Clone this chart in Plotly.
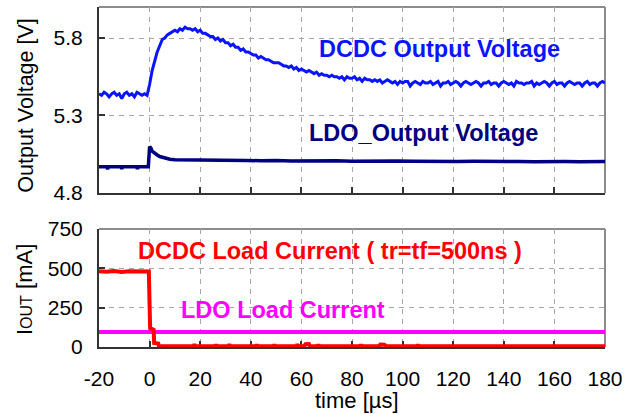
import plotly.graph_objects as go

# ---------------- data ----------------
# time axis in microseconds, 1 us steps for the voltage traces
dcdc_t = list(range(-20, 181))
dcdc_v = [
    5.44, 5.43, 5.45, 5.44, 5.42, 5.44, 5.45, 5.43, 5.44, 5.41,
    5.44, 5.45, 5.43, 5.44, 5.42, 5.45, 5.44, 5.43, 5.44, 5.43,
    5.50, 5.59, 5.65, 5.71, 5.75, 5.79, 5.80, 5.82, 5.83, 5.84,
    5.85, 5.84, 5.86, 5.85, 5.87, 5.86, 5.86, 5.85, 5.86, 5.84,
    5.85, 5.83, 5.83, 5.82, 5.81, 5.81, 5.79, 5.80, 5.78, 5.79,
    5.77, 5.77, 5.75, 5.76, 5.74, 5.74, 5.72, 5.73, 5.71, 5.71,
    5.70, 5.69, 5.69, 5.67, 5.68, 5.67, 5.66, 5.66, 5.65, 5.64,
    5.64, 5.64, 5.63, 5.62, 5.62, 5.61, 5.62, 5.60, 5.61, 5.59,
    5.60, 5.59, 5.58, 5.59, 5.58, 5.57, 5.58, 5.56, 5.57, 5.56,
    5.56, 5.55, 5.56, 5.55, 5.55, 5.54, 5.55, 5.53, 5.55, 5.54,
    5.54, 5.55, 5.53, 5.54, 5.52, 5.54, 5.53, 5.53, 5.52, 5.53,
    5.52, 5.53, 5.51, 5.52, 5.53, 5.52, 5.51, 5.52, 5.50, 5.52,
    5.51, 5.52, 5.52, 5.49, 5.51, 5.52, 5.51, 5.50, 5.52, 5.51,
    5.51, 5.52, 5.50, 5.51, 5.52, 5.49, 5.51, 5.51, 5.52, 5.50,
    5.51, 5.52, 5.51, 5.49, 5.51, 5.52, 5.51, 5.50, 5.51, 5.52,
    5.51, 5.49, 5.51, 5.51, 5.52, 5.50, 5.51, 5.51, 5.49, 5.51,
    5.52, 5.51, 5.50, 5.51, 5.49, 5.52, 5.51, 5.51, 5.50, 5.51,
    5.51, 5.52, 5.49, 5.51, 5.50, 5.51, 5.52, 5.51, 5.49, 5.51,
    5.52, 5.50, 5.51, 5.51, 5.49, 5.51, 5.52, 5.51, 5.50, 5.51,
    5.51, 5.49, 5.51, 5.52, 5.50, 5.51, 5.51, 5.49, 5.51, 5.52,
    5.51,
]

ldo_t = [-20, -17, -16.6, -16.2, -13, -11.3, -11, -10.7, -8, -5.1, -4.8, -4.5,
         -2, -0.5, 0, 0.5, 1, 2, 3, 4, 5, 6, 7, 8, 10,
         14, 20, 26, 32, 38, 44, 50, 56, 62, 68, 74, 80, 86, 92, 98,
         104, 110, 116, 122, 128, 134, 140, 146, 152, 158, 164, 170, 176, 180]
ldo_v = [4.97, 4.97, 4.955, 4.97, 4.97, 4.97, 4.955, 4.97, 4.97, 4.97, 4.955, 4.97,
         4.97, 4.97, 5.10, 5.09, 5.07, 5.055, 5.045, 5.035, 5.03, 5.025, 5.02, 5.018, 5.015,
         5.015, 5.012, 5.01, 5.012, 5.01, 5.008, 5.01, 5.006, 5.008, 5.005, 5.008, 5.004, 5.006, 5.003, 5.006,
         5.004, 5.002, 5.005, 5.003, 5.004, 5.002, 5.004, 5.003, 5.002, 5.004, 5.003, 5.002, 5.004, 5.003]

dcdc_i_t = [-20, -17, -14, -11, -8, -5, -2, -0.3, 0.2, 1.6, 1.8, 3.4, 3.7,
            17.4, 17.7, 18.0, 26.0, 26.3, 26.6, 31.2, 31.5, 31.8,
            42.1, 42.4, 42.7, 49.0, 49.3, 49.6, 58.1, 58.4, 58.7,
            61.0, 61.6, 62.3, 63.0, 63.4, 66.4, 66.7, 67.0,
            83.3, 83.6, 83.9, 90.6, 91.2, 92.0, 92.8, 93.6,
            105.7, 106.0, 106.3, 180]
dcdc_i = [482, 478, 483, 477, 481, 479, 482, 480, 120, 110, 25, 22, 4,
          4, 18, 4, 4, 16, 4, 4, 18, 4,
          4, 17, 4, 4, 16, 4, 4, 18, 4,
          4, 17, 15, 18, 4, 4, 16, 4,
          4, 17, 4, 4, 16, 18, 15, 4,
          4, 15, 4, 4]

ldo_i_t = [-20, 180]
ldo_i = [95, 95]

# axis settings
x_range = [-20, 180]
x_ticks = list(range(-20, 181, 20))
x_ticktext = [str(v) for v in x_ticks]   # plain hyphen for negatives
v_range = [4.8, 6.0]
v_ticks = [4.8, 5.3, 5.8]
v_ticktext = ["4.8", "5.3", "5.8"]
i_range = [0, 750]
i_ticks = [0, 250, 500, 750]

# colours
C_DCDC_V = "#0a14ff"
C_LDO_V = "#000080"
C_DCDC_I = "#ff0000"
C_LDO_I = "#ff00ff"
FONT = "Liberation Sans, Arial, sans-serif"

fig = go.Figure()

# upper panel: output voltages
fig.add_trace(go.Scatter(x=dcdc_t, y=dcdc_v, mode="lines", xaxis="x2", yaxis="y2",
                         line=dict(color=C_DCDC_V, width=3)))
fig.add_trace(go.Scatter(x=ldo_t, y=ldo_v, mode="lines", xaxis="x2", yaxis="y2",
                         line=dict(color=C_LDO_V, width=3.5)))

# lower panel: load currents
fig.add_trace(go.Scatter(x=ldo_i_t, y=ldo_i, mode="lines", xaxis="x", yaxis="y",
                         line=dict(color=C_LDO_I, width=4)))
fig.add_trace(go.Scatter(x=dcdc_i_t, y=dcdc_i, mode="lines", xaxis="x", yaxis="y",
                         line=dict(color=C_DCDC_I, width=4)))

grid = dict(showgrid=True, gridcolor="#a6a6a6", gridwidth=1.3, griddash="5px,5px")
axis_common = dict(showline=True, linecolor="#333333", linewidth=2,
                   ticks="inside", ticklen=6, tickwidth=1.5, tickcolor="#333333",
                   tickfont=dict(family=FONT, size=21, color="#000000"),
                   zeroline=False, layer="below traces", automargin=False, **grid)

fig.update_layout(
    width=634, height=414,
    margin=dict(l=99, r=29, t=7, b=67, pad=0, autoexpand=False),
    paper_bgcolor="white", plot_bgcolor="white",
    showlegend=False,
    xaxis=dict(domain=[0, 1], anchor="y", range=x_range, tickvals=x_ticks,
               ticktext=x_ticktext, ticklabelstandoff=12, **axis_common),
    yaxis=dict(domain=[0, 0.347], anchor="x", range=i_range, tickvals=i_ticks,
               ticklabelstandoff=10, **axis_common),
    xaxis2=dict(domain=[0, 1], anchor="y2", range=x_range, tickvals=x_ticks,
                matches="x", showticklabels=False, **axis_common),
    yaxis2=dict(domain=[0.453, 1], anchor="x2", range=v_range, tickvals=v_ticks,
                ticktext=v_ticktext, ticklabelstandoff=10, **axis_common),
)

# grey frame on the top and right edges of each panel
for xr, yr in (("x domain", "y domain"), ("x2 domain", "y2 domain")):
    fig.add_shape(type="line", xref=xr, yref=yr, x0=0, x1=1, y0=1, y1=1,
                  line=dict(color="#8c8c8c", width=2), layer="below")
    fig.add_shape(type="line", xref=xr, yref=yr, x0=1, x1=1, y0=0, y1=1,
                  line=dict(color="#8c8c8c", width=2), layer="below")

# trace labels
labels = [
    ("DCDC Output Voltage", 66.0, 5.726, "x2", "y2", C_DCDC_V),
    ("LDO_Output Voltage", 62.1, 5.184, "x2", "y2", C_LDO_V),
    ("DCDC Load Current ( tr=tf=500ns )", -5.2, 612, "x", "y", C_DCDC_I),
    ("LDO Load Current", 11.8, 233, "x", "y", C_LDO_I),
]
for text, x, y, xr, yr, col in labels:
    fig.add_annotation(text=f"<b>{text}</b>", x=x, y=y, xref=xr, yref=yr,
                       xanchor="left", yanchor="middle", showarrow=False,
                       font=dict(family=FONT, size=23.5, color=col))

# axis titles
fig.add_annotation(text="Output Voltage [V]", xref="paper", yref="paper",
                   x=-0.146, y=0.71, textangle=-90, showarrow=False,
                   xanchor="center", yanchor="middle",
                   font=dict(family=FONT, size=21.5, color="#000000"))
fig.add_annotation(text="I<span style='font-size:16px'>OUT</span> [mA]",
                   xref="paper", yref="paper",
                   x=-0.146, y=0.168, textangle=-90, showarrow=False,
                   xanchor="center", yanchor="middle",
                   font=dict(family=FONT, size=22, color="#000000"))
fig.add_annotation(text="time [µs]", xref="paper", yref="paper",
                   x=0.51, y=-0.158, showarrow=False,
                   xanchor="center", yanchor="middle",
                   font=dict(family=FONT, size=22, color="#000000"))

fig.write_html("out.html")
